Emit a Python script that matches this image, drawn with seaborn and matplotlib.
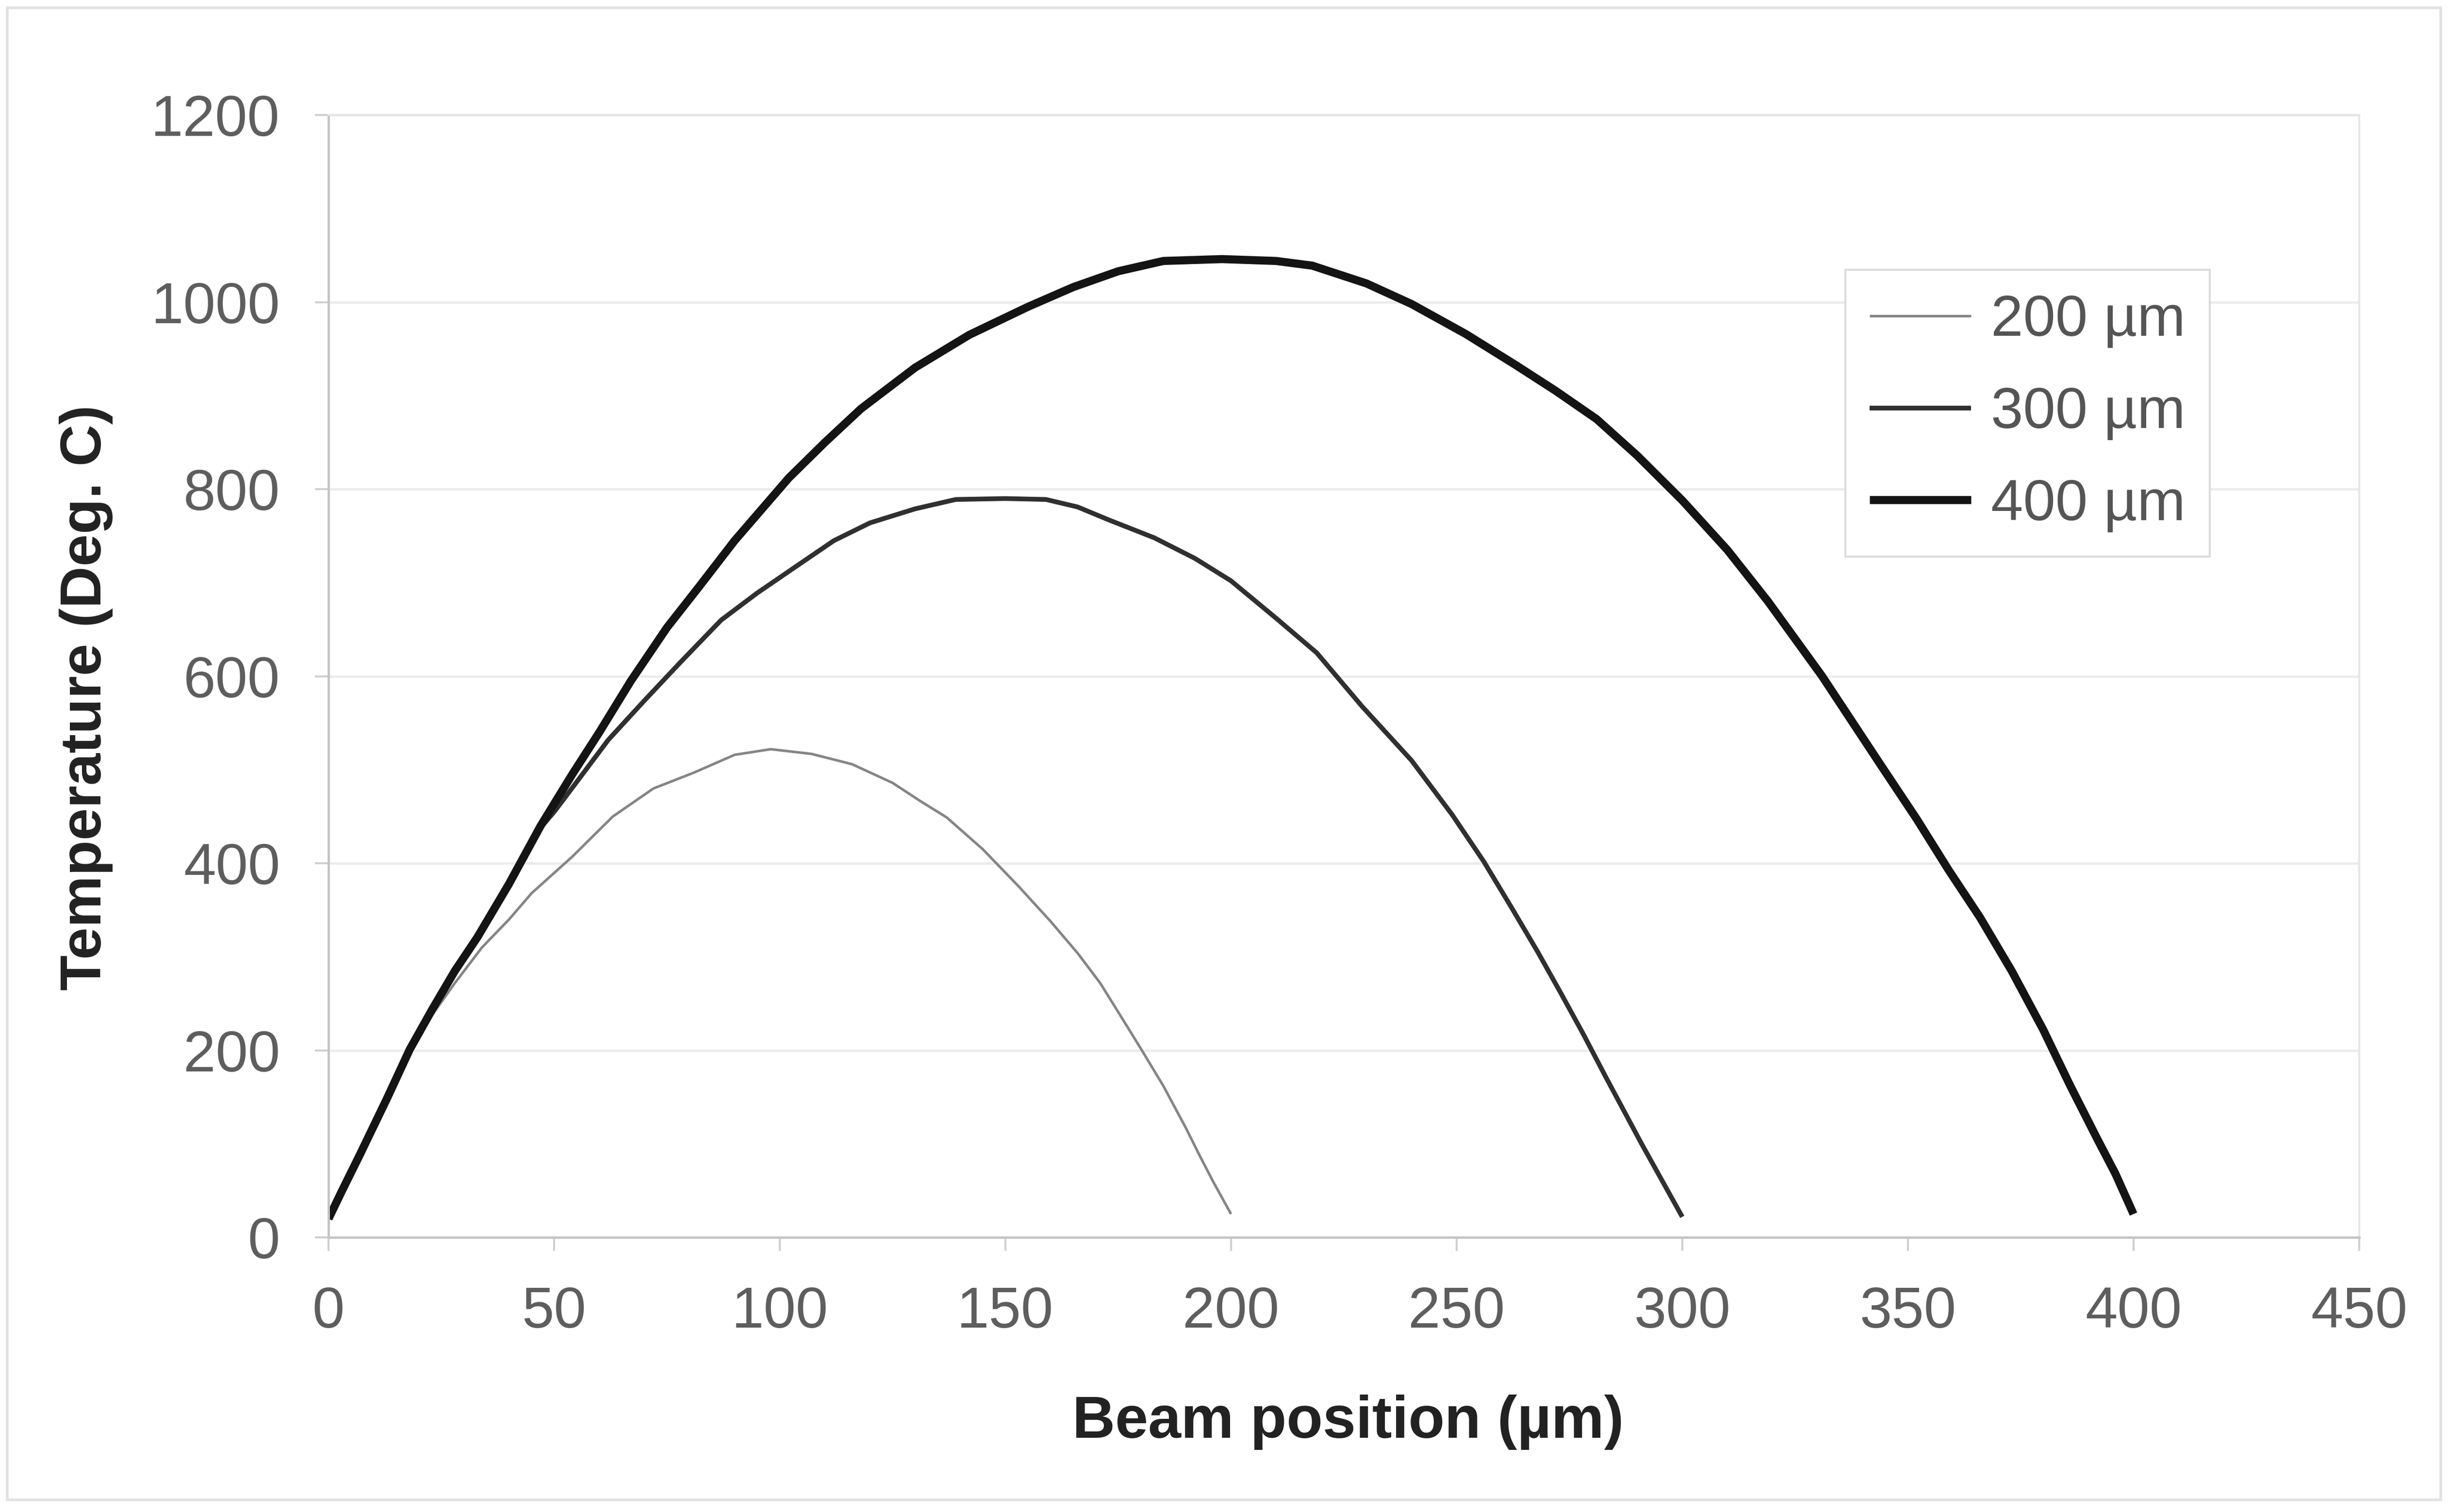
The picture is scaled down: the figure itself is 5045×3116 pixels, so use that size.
import matplotlib
matplotlib.use("Agg")
import matplotlib.pyplot as plt
import seaborn as sns
import pandas as pd
from matplotlib.patches import Rectangle

# ---------------- data ----------------
x200 = [0, 3, 7, 13, 18, 23, 28, 34, 40, 45, 54, 63, 72, 81, 90, 98, 107, 116, 125, 131,
        137, 145, 153, 160, 166, 171, 175, 180, 185, 190, 193, 196, 200]
t200 = [20, 50, 89, 149, 200, 238, 272, 310, 340, 368, 407, 450, 480, 497, 516, 522, 517, 506, 486, 467,
        449, 415, 375, 338, 304, 272, 241, 202, 162, 117, 88, 60, 25]

x300 = [0, 3, 7, 13, 18, 23, 28, 33, 40, 47, 50, 55, 62, 70, 78, 87, 95, 105, 112, 120,
        130, 139, 150, 159, 166, 173, 183, 192, 200, 210, 219, 229, 240, 249, 256, 262, 268, 273,
        278, 283, 288, 291, 294, 297, 300]
t300 = [20, 50, 89, 149, 201, 244, 285, 321, 378, 438, 455, 487, 532, 574, 615, 660, 689, 722, 745, 764,
        779, 789, 790, 789, 781, 767, 748, 726, 702, 662, 625, 568, 510, 452, 402, 354, 305, 262,
        218, 172, 127, 100, 74, 48, 22]

x400 = [0, 3, 7, 13, 18, 23, 28, 33, 40, 47, 54, 60, 67, 75, 82, 90, 102, 110, 118, 130,
        142, 155, 165, 175, 185, 198, 210, 218, 230, 240, 252, 263, 272, 281, 290, 300, 310, 319,
        331, 344, 352, 359, 366, 373, 380, 386, 392, 396, 400]
t400 = [20, 50, 89, 149, 201, 244, 285, 321, 378, 440, 495, 540, 595, 652, 695, 745, 812, 850, 886, 930,
        965, 995, 1016, 1033, 1044, 1046, 1044, 1039, 1020, 998, 966, 933, 905, 875, 836, 788, 735, 680,
        600, 505, 447, 393, 342, 285, 222, 162, 105, 68, 25]

series_labels = ["200 µm", "300 µm", "400 µm"]
x_ticks = [0, 50, 100, 150, 200, 250, 300, 350, 400, 450]
y_ticks = [0, 200, 400, 600, 800, 1000, 1200]
x_label = "Beam position (µm)"
y_label = "Temperature (Deg. C)"

# ---------------- styling ----------------
sns.set_theme(style="white")
plt.rcParams['font.family'] = ['Liberation Sans', 'DejaVu Sans']

fig = plt.figure(figsize=(50.45, 31.16), dpi=100)
fig.patch.set_facecolor("white")
ax = fig.add_axes([0.1342, 0.1816, 0.8295, 0.7423])

colors = ["#858585", "#303030", "#141414"]
widths = [3.8, 7.0, 12.0]
for xs, ts, lab, c, w in zip([x200, x300, x400], [t200, t300, t400], series_labels, colors, widths):
    df = pd.DataFrame({"x": xs, "t": ts})
    sns.lineplot(data=df, x="x", y="t", ax=ax, color=c, linewidth=w, label=lab,
                 sort=False, estimator=None, solid_joinstyle="round", solid_capstyle="butt")

ax.set_xlim(0, 450)
ax.set_ylim(0, 1200)
ax.set_xticks(x_ticks)
ax.set_yticks(y_ticks)
ax.set_xticklabels([str(v) for v in x_ticks])
ax.set_yticklabels([str(v) for v in y_ticks])

ax.grid(axis="y", color="#ececec", linewidth=3.5)
ax.grid(axis="x", visible=False)
ax.set_axisbelow(True)

for side in ["left", "bottom"]:
    ax.spines[side].set_color("#c4c4c4")
    ax.spines[side].set_linewidth(3.5)
for side in ["top", "right"]:
    ax.spines[side].set_color("#e6e6e6")
    ax.spines[side].set_linewidth(3)

ax.tick_params(axis="both", which="major", direction="out", length=20, width=3,
               color="#d0d0d0", labelsize=86, labelcolor="#5e5e5e", pad=52)
ax.tick_params(axis="x", bottom=True)
ax.tick_params(axis="y", left=True)

ax.set_xlabel(x_label, fontsize=88, fontweight="bold", color="#222222")
ax.set_ylabel(y_label, fontsize=86, fontweight="bold", color="#222222")
ax.xaxis.set_label_coords(0.502, -0.14)
ax.yaxis.set_label_coords(-0.106, 0.481)

leg = ax.legend(loc="upper left", bbox_to_anchor=(0.747, 0.862), borderaxespad=0,
                fontsize=86, frameon=True, fancybox=False, framealpha=1,
                edgecolor="#dcdcdc", handlelength=1.75, handletextpad=0.34,
                labelspacing=0.66, borderpad=0.42)
leg.get_frame().set_linewidth(3)
for txt in leg.get_texts():
    txt.set_color("#555555")

# chart-area border
fig.patches.append(Rectangle((0.003, 0.008), 0.994, 0.987, transform=fig.transFigure,
                             fill=False, edgecolor="#e2e2e2", linewidth=4))

fig.savefig("out.png", dpi=100, facecolor="white")
